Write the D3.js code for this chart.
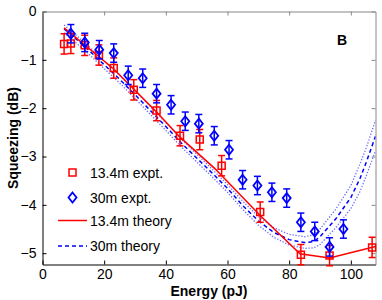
<!DOCTYPE html>
<html>
<head>
<meta charset="utf-8">
<script src="https://cdn.jsdelivr.net/npm/d3@7"></script>
<style>
  body { margin: 0; background: #fff; }
  svg { font-family: "Liberation Sans", Arial, sans-serif; }
</style>
</head>
<body>
<div id="chart"></div>
<script>
const COLOR_RED = '#ff0000';
const COLOR_BLUE = '#0000ff';
const COLOR_BAND = '#6a6aff';

const WIDTH = 382;
const HEIGHT = 300;
const PLOT = { left: 42.5, right: 375.5, top: 11.5, bottom: 264.5 };

// 13.4m experiment
const redEnergy = [7.0, 9.2, 13.7, 18.3, 23.1, 29.6, 37.0, 44.6, 51.0, 58.1, 70.6, 83.8, 93.1, 106.9];
const redSqueeze = [-0.67, -0.66, -0.70, -0.90, -1.17, -1.62, -2.05, -2.57, -2.65, -3.19, -4.15, -5.03, -5.05, -4.88];
const redErr = 0.21;

// 30m experiment
const blueEnergy = [9.2, 13.7, 18.4, 23.1, 27.8, 32.5, 37.0, 41.7, 46.3, 50.7, 55.7, 60.5, 64.9, 69.7, 74.4, 79.2, 83.8, 88.3, 93.1, 97.6];
const blueSqueeze = [-0.46, -0.64, -0.79, -0.86, -1.32, -1.38, -1.70, -1.93, -2.27, -2.32, -2.57, -2.86, -3.48, -3.60, -3.74, -3.86, -4.36, -4.55, -4.87, -4.50];
const blueErr = 0.19;

// 13.4m theory
const redTheoryEnergy = [7, 23.1, 37, 44.6, 55.9, 70.6, 83.5, 93.1, 108];
const redTheory = [-0.34, -1.19, -2.08, -2.60, -3.25, -4.22, -5.01, -5.10, -4.86];

// 30m theory with its spread
const blueTheoryEnergy = [7, 10, 15, 20, 25, 30, 35, 40, 45, 50, 55, 60, 65, 70, 75, 80, 85, 88, 90, 95, 100, 103, 105, 108];
const blueTheory = [-0.36, -0.52, -0.80, -1.10, -1.40, -1.72, -2.05, -2.38, -2.72, -3.03, -3.34, -3.66, -4.02, -4.33, -4.57, -4.72, -4.78, -4.76, -4.66, -4.30, -3.85, -3.45, -3.12, -2.58];
const blueTheoryHi = [-0.28, -0.44, -0.72, -1.02, -1.32, -1.64, -1.97, -2.30, -2.64, -2.95, -3.26, -3.58, -3.93, -4.24, -4.47, -4.61, -4.66, -4.62, -4.50, -4.10, -3.60, -3.15, -2.82, -2.25];
const blueTheoryLo = [-0.44, -0.60, -0.88, -1.18, -1.48, -1.80, -2.13, -2.46, -2.80, -3.11, -3.42, -3.74, -4.10, -4.42, -4.67, -4.83, -4.90, -4.89, -4.82, -4.48, -4.08, -3.72, -3.40, -2.88];

const xTicks = [0, 20, 40, 60, 80, 100];
const yTicks = [0, -1, -2, -3, -4, -5];
const legendLabels = ['13.4m expt.', '30m expt.', '13.4m theory', '30m theory'];

const svg = d3.select('#chart')
    .append('svg')
    .attr('width', WIDTH)
    .attr('height', HEIGHT);

const x = d3.scaleLinear()
    .domain([0, 108])
    .range([PLOT.left, PLOT.right]);

const y = d3.scaleLinear()
    .domain([-5.234, 0])
    .range([PLOT.bottom, PLOT.top]);

svg.append('clipPath')
    .attr('id', 'plot-clip')
    .append('rect')
    .attr('x', PLOT.left)
    .attr('y', PLOT.top)
    .attr('width', PLOT.right - PLOT.left)
    .attr('height', PLOT.bottom - PLOT.top);

// axes, ticks point inwards on all four sides
svg.append('g')
    .attr('transform', `translate(0,${PLOT.bottom})`)
    .call(d3.axisBottom(x).tickValues(xTicks).tickFormat(d3.format('d'))
        .tickSizeInner(-4).tickSizeOuter(0).tickPadding(5))
    .call(g => g.selectAll('text').attr('font-size', 14).attr('fill', '#000'));

svg.append('g')
    .attr('transform', `translate(${PLOT.left},0)`)
    .call(d3.axisLeft(y).tickValues(yTicks).tickFormat(d3.format('d'))
        .tickSizeInner(-4).tickSizeOuter(0).tickPadding(6))
    .call(g => g.selectAll('text').attr('font-size', 14).attr('fill', '#000'));

svg.append('g')
    .attr('transform', `translate(0,${PLOT.top})`)
    .call(d3.axisTop(x).tickValues(xTicks).tickSizeInner(-4).tickSizeOuter(0).tickFormat(''))
    .call(g => g.select('.domain').attr('stroke', '#888'))
    .call(g => g.selectAll('.tick line').attr('stroke', '#888'));

svg.append('g')
    .attr('transform', `translate(${PLOT.right},0)`)
    .call(d3.axisRight(y).tickValues(yTicks).tickSizeInner(-4).tickSizeOuter(0).tickFormat(''))
    .call(g => g.select('.domain').attr('stroke', '#888'))
    .call(g => g.selectAll('.tick line').attr('stroke', '#888'));

const plot = svg.append('g').attr('clip-path', 'url(#plot-clip)');

const line = (energies) => d3.line()
    .x((d, i) => x(energies[i]))
    .y(d => y(d));

// 30m theory band (dotted) and centre (dashed)
[blueTheoryHi, blueTheoryLo].forEach(series => {
    plot.append('path')
        .datum(series)
        .attr('fill', 'none')
        .attr('stroke', COLOR_BAND)
        .attr('stroke-width', 1.3)
        .attr('stroke-dasharray', '1.3,1.7')
        .attr('d', line(blueTheoryEnergy));
});

plot.append('path')
    .datum(blueTheory)
    .attr('fill', 'none')
    .attr('stroke', COLOR_BLUE)
    .attr('stroke-width', 1.5)
    .attr('stroke-dasharray', '4,3')
    .attr('d', line(blueTheoryEnergy));

plot.append('path')
    .datum(redTheory)
    .attr('fill', 'none')
    .attr('stroke', COLOR_RED)
    .attr('stroke-width', 1.5)
    .attr('d', line(redTheoryEnergy));

function drawErrorBars(energies, values, err, color) {
    const g = svg.append('g')
        .attr('stroke', color)
        .attr('stroke-width', 1.5)
        .attr('fill', 'none');
    energies.forEach((e, i) => {
        const cx = x(e);
        const top = y(values[i] + err);
        const bottom = y(values[i] - err);
        g.append('line').attr('x1', cx).attr('x2', cx).attr('y1', top).attr('y2', bottom);
        g.append('line').attr('x1', cx - 3.5).attr('x2', cx + 3.5).attr('y1', top).attr('y2', top);
        g.append('line').attr('x1', cx - 3.5).attr('x2', cx + 3.5).attr('y1', bottom).attr('y2', bottom);
    });
}

function squarePath(cx, cy) {
    return `M${cx - 3.5},${cy - 3.5}h7v7h-7z`;
}

function diamondPath(cx, cy) {
    return `M${cx},${cy - 5}L${cx + 4},${cy}L${cx},${cy + 5}L${cx - 4},${cy}z`;
}

drawErrorBars(redEnergy, redSqueeze, redErr, COLOR_RED);
svg.append('g')
    .selectAll('path')
    .data(redSqueeze)
    .join('path')
    .attr('d', (d, i) => squarePath(x(redEnergy[i]), y(d)))
    .attr('fill', 'none')
    .attr('stroke', COLOR_RED)
    .attr('stroke-width', 1.5);

drawErrorBars(blueEnergy, blueSqueeze, blueErr, COLOR_BLUE);
svg.append('g')
    .selectAll('path')
    .data(blueSqueeze)
    .join('path')
    .attr('d', (d, i) => diamondPath(x(blueEnergy[i]), y(d)))
    .attr('fill', 'none')
    .attr('stroke', COLOR_BLUE)
    .attr('stroke-width', 1.8);

// legend
const legend = svg.append('g').attr('font-size', 14);
const legendY = [172.5, 197.5, 220.5, 246];

legend.append('path')
    .attr('d', squarePath(72.5, legendY[0]))
    .attr('fill', 'none')
    .attr('stroke', COLOR_RED)
    .attr('stroke-width', 1.5);
legend.append('path')
    .attr('d', diamondPath(72.5, legendY[1]))
    .attr('fill', 'none')
    .attr('stroke', COLOR_BLUE)
    .attr('stroke-width', 1.8);
legend.append('line')
    .attr('x1', 58).attr('x2', 87)
    .attr('y1', legendY[2]).attr('y2', legendY[2])
    .attr('stroke', COLOR_RED)
    .attr('stroke-width', 1.5);
legend.append('line')
    .attr('x1', 58).attr('x2', 87)
    .attr('y1', legendY[3]).attr('y2', legendY[3])
    .attr('stroke', COLOR_BLUE)
    .attr('stroke-width', 1.5)
    .attr('stroke-dasharray', '4,3');

legend.selectAll('text')
    .data(legendLabels)
    .join('text')
    .attr('x', 90)
    .attr('y', (d, i) => legendY[i])
    .attr('dy', '0.36em')
    .text(d => d);

// panel letter
svg.append('text')
    .attr('x', 337)
    .attr('y', 45)
    .attr('font-size', 14)
    .attr('font-weight', 'bold')
    .text('B');

// axis titles
svg.append('text')
    .attr('x', (PLOT.left + PLOT.right) / 2)
    .attr('y', 295.5)
    .attr('text-anchor', 'middle')
    .attr('font-size', 14)
    .attr('font-weight', 'bold')
    .text('Energy (pJ)');

svg.append('text')
    .attr('transform', 'rotate(-90)')
    .attr('x', -(PLOT.top + PLOT.bottom) / 2)
    .attr('y', 18)
    .attr('text-anchor', 'middle')
    .attr('font-size', 14)
    .attr('font-weight', 'bold')
    .text('Squeezing (dB)');
</script>
</body>
</html>
